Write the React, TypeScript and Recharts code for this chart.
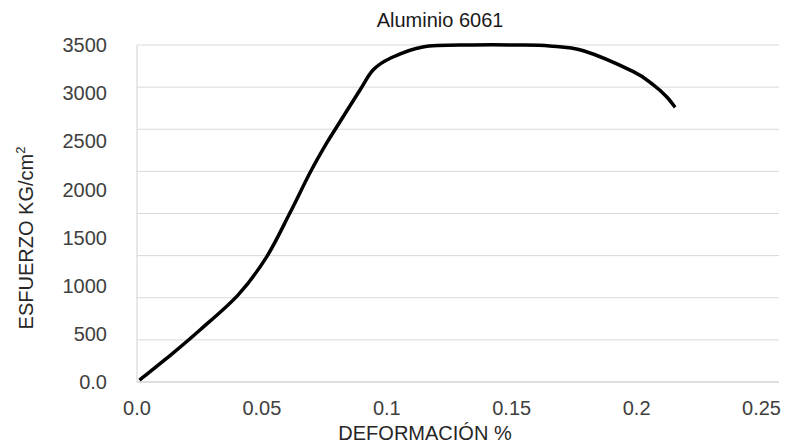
import React from 'react'
import {
  LineChart,
  Line,
  XAxis,
  YAxis,
  CartesianGrid,
  Customized,
} from 'recharts'

// strain (%) vs stress (kg/cm2)
const deformacion = [
  0.001, 0.0144, 0.0252, 0.0405, 0.0519, 0.0612, 0.0692, 0.0759, 0.0812, 0.0892,
  0.0945, 0.1012, 0.1144, 0.1344, 0.1519, 0.1652, 0.1787, 0.1987, 0.2067, 0.212,
  0.2154,
]
const esfuerzo = [
  20, 300, 540, 905, 1300, 1755, 2170, 2480, 2700, 3030,
  3240, 3360, 3480, 3500, 3500, 3490, 3440, 3223, 3085, 2963,
  2853,
]

const xTicks = [0, 0.05, 0.1, 0.15, 0.2, 0.25]
const yTicks = [0, 500, 1000, 1500, 2000, 2500, 3000, 3500]
const gridValues = [0, 437.5, 875, 1312.5, 1750, 2187.5, 2625, 3062.5, 3500]

const data = deformacion.map((x, i) => ({ x, y: esfuerzo[i] }))

const FONT = '"Liberation Sans", Arial, sans-serif'

const formatX = (v: number) => (v === 0 ? '0.0' : String(v))
const formatY = (v: number) => (v === 0 ? '0.0' : String(v))

// Excel-like smoothed line: uniform Catmull-Rom through the points
function smoothCurve(context: any) {
  let pts: [number, number][] = []
  return {
    areaStart() {},
    areaEnd() {},
    lineStart() {
      pts = []
    },
    point(x: number, y: number) {
      pts.push([+x, +y])
    },
    lineEnd() {
      if (!pts.length) return
      context.moveTo(pts[0][0], pts[0][1])
      for (let i = 0; i < pts.length - 1; i++) {
        const p0 = pts[i - 1] || pts[i]
        const p1 = pts[i]
        const p2 = pts[i + 1]
        const p3 = pts[i + 2] || pts[i + 1]
        context.bezierCurveTo(
          p1[0] + (p2[0] - p0[0]) / 6,
          p1[1] + (p2[1] - p0[1]) / 6,
          p2[0] - (p3[0] - p1[0]) / 6,
          p2[1] - (p3[1] - p1[1]) / 6,
          p2[0],
          p2[1],
        )
      }
    },
  }
}

function Titles() {
  return (
    <g fontFamily={FONT} fontSize={20}>
      <text x={440} y={27} textAnchor="middle" fill="#1a1a1a">
        Aluminio 6061
      </text>
      <text x={425} y={440} textAnchor="middle" fill="#262626">
        DEFORMACIÓN %
      </text>
      <text
        x={33}
        y={238}
        textAnchor="middle"
        fill="#262626"
        transform="rotate(-90, 33, 238)"
      >
        ESFUERZO KG/cm
        <tspan fontSize={13} dy={-8}>
          2
        </tspan>
      </text>
    </g>
  )
}

export default function App() {
  return (
    <div style={{ position: 'absolute', left: 0, top: 0, background: '#fff' }}>
      <LineChart
        width={785}
        height={447}
        data={data}
        margin={{ top: 45, right: 6, bottom: 35, left: 0 }}
      >
        <CartesianGrid
          vertical={false}
          horizontalValues={gridValues}
          stroke="#d9d9d9"
          strokeWidth={1}
        />
        <XAxis
          dataKey="x"
          type="number"
          domain={[0, 0.257]}
          ticks={xTicks}
          tickFormatter={formatX}
          tickLine={false}
          tickSize={0}
          tickMargin={19}
          axisLine={{ stroke: '#d0d0d0' }}
          height={30}
          tick={{ fontSize: 20, fontFamily: FONT, fill: '#404040' }}
        />
        <YAxis
          dataKey="y"
          type="number"
          domain={[0, 3500]}
          ticks={yTicks}
          tickFormatter={formatY}
          tickLine={false}
          tickSize={0}
          tickMargin={30}
          axisLine={{ stroke: '#d0d0d0' }}
          width={137}
          tick={{ fontSize: 20, fontFamily: FONT, fill: '#404040' }}
        />
        <Line
          type={smoothCurve as any}
          dataKey="y"
          stroke="#000"
          strokeWidth={3.5}
          dot={false}
          isAnimationActive={false}
        />
        <Customized component={Titles} />
      </LineChart>
    </div>
  )
}
